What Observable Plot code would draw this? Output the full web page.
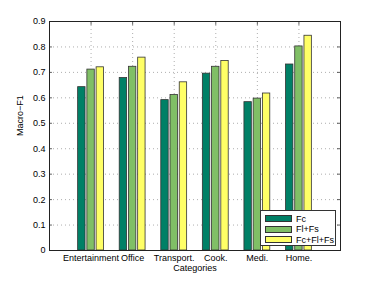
<!DOCTYPE html>
<html><head><meta charset="utf-8">
<script src="https://cdn.jsdelivr.net/npm/d3@7"></script>
<script src="https://cdn.jsdelivr.net/npm/@observablehq/plot@0.6"></script>
<style>
body{margin:0;background:#fff;font-family:"Liberation Sans",Arial,sans-serif;}
#wrap{position:relative;width:376px;height:283px;}
#legend{position:absolute;left:260px;top:210px;width:76px;height:36px;border:1px solid #333;background:#fff;box-sizing:border-box;font-size:9px;}
.row{position:absolute;left:4px;height:9px;display:flex;align-items:center;}
.sw{width:27px;height:7px;border:1px solid #333;box-sizing:border-box;margin-right:4px;}
</style></head>
<body><div id="wrap"><div id="chart"></div><div id="legend"></div></div>
<script>
const categories = ["Entertainment","Office","Transport.","Cook.","Medi.","Home."];
const series = ["Fc","Fl+Fs","Fc+Fl+Fs"];
const fc      = [0.642,0.678,0.591,0.695,0.583,0.731];
const flfs    = [0.711,0.722,0.611,0.722,0.597,0.802];
const fcflfs  = [0.720,0.758,0.661,0.745,0.617,0.844];
const colors  = ["#008066","#80bf66","#ffff66"];
const yTicks  = [0,0.1,0.2,0.3,0.4,0.5,0.6,0.7,0.8,0.9];

const vals = [fc, flfs, fcflfs];
const rows = [];
categories.forEach((c,i)=>series.forEach((s,j)=>rows.push({cat:c, ci:i+1, sj:j, series:s, v:vals[j][i]})));
const groupStep = 0.222, barW = 0.178;

const chart = Plot.plot({
  width:376, height:283,
  marginLeft:49, marginRight:36, marginTop:21, marginBottom:33,
  style:{fontFamily:'"Liberation Sans",Arial,sans-serif', fontSize:"9px", color:"#000", background:"#fff"},
  x:{domain:[0,7]},
  y:{domain:[0,0.9]},
  marks:[
    Plot.ruleY(yTicks.slice(1,-1),{stroke:"#999",strokeDasharray:"1,3",strokeWidth:0.8}),
    Plot.ruleX([1,2,3,4,5,6],{stroke:"#999",strokeDasharray:"1,3",strokeWidth:0.8}),
    Plot.rectY(rows,{
      x1:d=>d.ci+(d.sj-1)*groupStep-barW/2,
      x2:d=>d.ci+(d.sj-1)*groupStep+barW/2,
      y1:0, y2:"v",
      fill:d=>colors[d.sj], stroke:"#333", strokeWidth:0.8
    }),
    Plot.axisY(yTicks,{tickSize:0, tickPadding:4, tickFormat:v=>v===0?"0":v.toFixed(1), label:null}),
    Plot.axisX([1,2,3,4,5,6],{tickSize:0, tickPadding:4, tickFormat:v=>categories[v-1], label:null}),
    Plot.ruleY(yTicks,{x1:0, x2:0.07, stroke:"#333", strokeWidth:0.8}),
    Plot.ruleY(yTicks,{x1:6.93, x2:7, stroke:"#333", strokeWidth:0.8}),
    Plot.ruleX([1,2,3,4,5,6],{y1:0.9, y2:0.885, stroke:"#333", strokeWidth:0.8}),
    Plot.frame({stroke:"#222", strokeWidth:1}),
    Plot.text(["Categories"],{frameAnchor:"bottom", dy:20, fontSize:9}),
    Plot.text(["Macro\u2212F1"],{frameAnchor:"left", dx:-29, rotate:-90, fontSize:9})
  ]
});
document.getElementById("chart").appendChild(chart);

const leg = document.getElementById("legend");
series.forEach((s,j)=>{
  const r=document.createElement("div");
  r.className="row"; r.style.top=(3+j*10.7)+"px";
  r.innerHTML=`<div class="sw" style="background:${colors[j]}"></div><span>${s}</span>`;
  leg.appendChild(r);
});
</script></body></html>
